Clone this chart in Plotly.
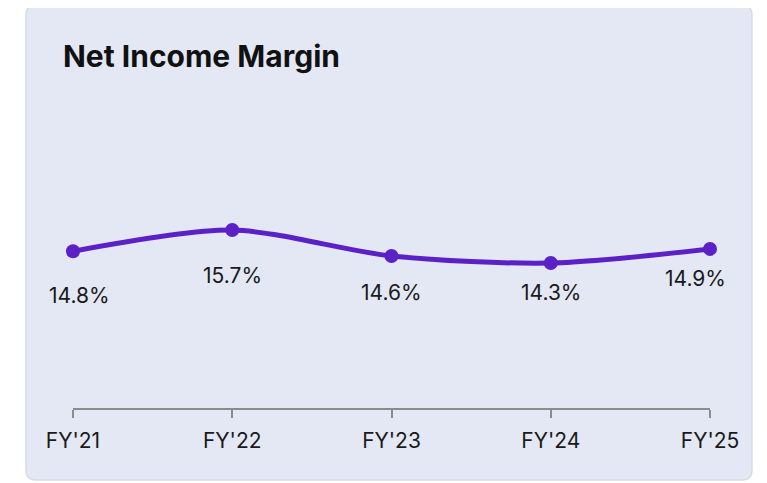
import plotly.graph_objects as go

years = ["FY'21", "FY'22", "FY'23", "FY'24", "FY'25"]
margin_pct = [14.8, 15.7, 14.6, 14.3, 14.9]
labels = ["14.8%", "15.7%", "14.6%", "14.3%", "14.9%"]

W, H = 767, 483
OFF = 8  # page body margin of the html page
L, R, T, B = 73 - OFF, 767 - 710 + OFF, 100 - OFF, 75 + OFF
PW, PH = W - L - R, H - T - B
purple = "#5c21c6"


def px_x(p):
    return (p - OFF - L) / PW


def px_y(p):
    return (H - B - (p - OFF)) / PH


def card_path(x0, y0, x1, y1, r):
    a, b, c, d = px_x(x0), px_x(x1), px_y(y0), px_y(y1)
    rx, ry = r / PW, r / PH
    return (
        f"M {a + rx},{c} L {b - rx},{c} Q {b},{c} {b},{c - ry} "
        f"L {b},{d + ry} Q {b},{d} {b - rx},{d} L {a + rx},{d} "
        f"Q {a},{d} {a},{d + ry} L {a},{c - ry} Q {a},{c} {a + rx},{c} Z"
    )


fig = go.Figure()
fig.add_trace(
    go.Scatter(
        x=list(range(len(years))),
        y=margin_pct,
        mode="lines+markers",
        line=dict(color=purple, width=5, shape="spline", smoothing=0.8),
        marker=dict(color=purple, size=14),
        cliponaxis=False,
        hoverinfo="skip",
    )
)

# value labels under the points
x_shift = [6, 0, 0, 0, -15]
y_shift = [-44, -45, -37, -29, -30]
for i, (v, t) in enumerate(zip(margin_pct, labels)):
    fig.add_annotation(
        x=i, y=v, text=t, showarrow=False, xshift=x_shift[i], yshift=y_shift[i],
        font=dict(family="Inter", size=21, color="#1a1a1a"),
    )

fig.add_annotation(
    xref="paper", yref="paper", x=px_x(61), y=px_y(56), xanchor="left",
    yanchor="middle", text="<b>Net Income Margin</b>", showarrow=False,
    font=dict(family="Inter", size=30, color="#111111"),
)

fig.add_shape(
    type="path", xref="paper", yref="paper", layer="below",
    path=card_path(26, 5, 752, 480, 10),
    fillcolor="#e3e8f4", line=dict(color="#d6dcea", width=1.5),
)

fig.update_layout(
    width=W, height=H,
    margin=dict(l=L, r=R, t=T, b=B),
    paper_bgcolor="white",
    plot_bgcolor="rgba(0,0,0,0)",
    showlegend=False,
    xaxis=dict(
        range=[0, len(years) - 1], tickvals=list(range(len(years))),
        ticktext=years, showgrid=False, zeroline=False, showline=True,
        linecolor="#8c8c8c", linewidth=2, ticks="outside", ticklen=8,
        tickcolor="#8c8c8c", tickwidth=2, ticklabelstandoff=5,
        tickfont=dict(family="Inter", size=21, color="#1a1a1a"),
    ),
    yaxis=dict(range=[8.15, 8.15 + PH / 23.57], visible=False),
)

fig.write_html("out.html")
